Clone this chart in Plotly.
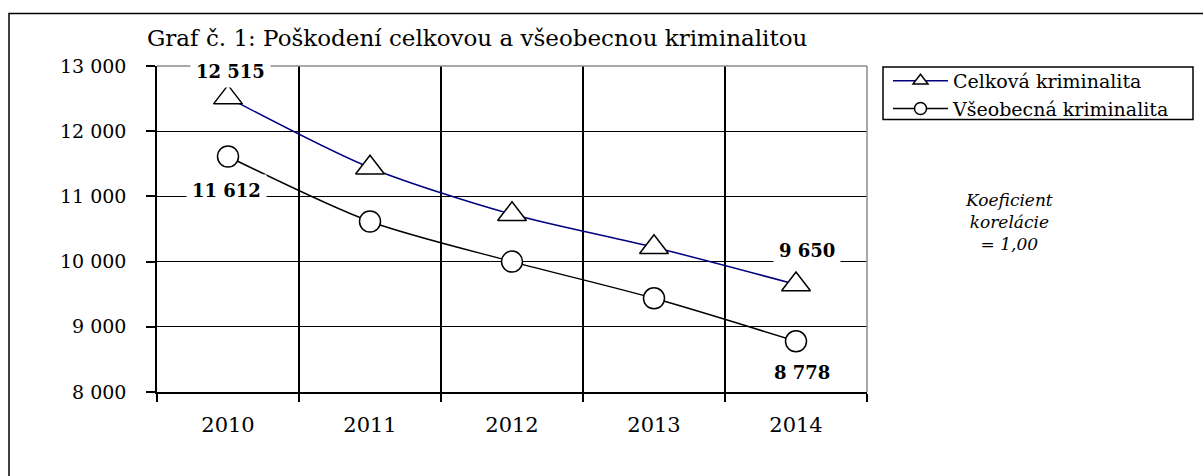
import plotly.graph_objects as go

# ---- data ----
years = ["2010", "2011", "2012", "2013", "2014"]
celkova = [12515, 11440, 10725, 10220, 9650]
vseobecna = [11612, 10615, 10000, 9437, 8778]
ytick_vals = [8000, 9000, 10000, 11000, 12000, 13000]
ytick_text = ["8 000", "9 000", "10 000", "11 000", "12 000", "13 000"]
series_names = ["Celková kriminalita", "Všeobecná kriminalita"]
title_text = "Graf č. 1: Poškodení celkovou a všeobecnou kriminalitou"
note_text = "Koeficient<br>korelácie<br>= 1,00"

# ---- layout geometry (pixels) ----
W, H = 1203, 476
L, R, T, B = 157, 867, 66, 392
PW, PH = R - L, B - T

def px(xp):
    return (xp - L) / PW

def py(yp):
    return (B - yp) / PH

FONT = "DejaVu Serif"
NAVY = "#000080"

fig = go.Figure()

fig.add_trace(go.Scatter(
    x=years, y=celkova, mode="lines+markers", showlegend=False,
    line=dict(color=NAVY, width=1.5, shape="spline", smoothing=0.8),
    marker=dict(symbol="triangle-up", size=25, color="white",
                line=dict(color="black", width=1.5)),
))
fig.add_trace(go.Scatter(
    x=years, y=vseobecna, mode="lines+markers", showlegend=False,
    line=dict(color="black", width=1.5, shape="spline", smoothing=0.8),
    marker=dict(symbol="circle", size=21, color="white",
                line=dict(color="black", width=1.5)),
))

# legend-only entries with smaller symbols
fig.add_trace(go.Scatter(
    x=[None], y=[None], mode="lines+markers", name=series_names[0],
    line=dict(color=NAVY, width=1.5),
    marker=dict(symbol="triangle-up", size=13, color="white",
                line=dict(color="black", width=1.5)),
))
fig.add_trace(go.Scatter(
    x=[None], y=[None], mode="lines+markers", name=series_names[1],
    line=dict(color="black", width=1.5),
    marker=dict(symbol="circle", size=12, color="white",
                line=dict(color="black", width=1.5)),
))

# data labels (white boxes cover gridlines)
lab_font = dict(family=FONT, size=18, color="black", weight="bold")
labels = [
    (0, celkova[0], 2, 26),
    (0, vseobecna[0], -2, -34),
    (4, celkova[4], 11, 34),
    (4, vseobecna[4], 6, -31),
]
for xi, yv, xs, ys in labels:
    fig.add_annotation(
        x=xi, y=yv, xref="x", yref="y", text=f"{yv:,}".replace(",", " "),
        showarrow=False, xshift=xs, yshift=ys, font=lab_font,
        bgcolor="white", borderpad=5,
    )

# correlation note
fig.add_annotation(
    x=px(1009), y=py(222), xref="paper", yref="paper", text=note_text,
    showarrow=False, xanchor="center", yanchor="middle", align="center",
    font=dict(family=FONT, size=17, color="black", style="italic"),
)

# plot border (gray top & right)
fig.add_shape(type="line", xref="paper", yref="paper", x0=0, x1=1, y0=1, y1=1,
              line=dict(color="#8c8c8c", width=1.5), layer="above")
fig.add_shape(type="line", xref="paper", yref="paper", x0=1, x1=1, y0=0, y1=1,
              line=dict(color="#8c8c8c", width=1.5), layer="above")

# legend frame
fig.add_shape(type="rect", xref="paper", yref="paper",
              x0=px(883), x1=px(1193), y0=py(119.5), y1=py(67),
              line=dict(color="black", width=1.5), layer="above")

# outer chart frame
fig.add_shape(type="rect", xref="paper", yref="paper",
              x0=px(9), x1=px(1210), y0=py(490), y1=py(13.5),
              line=dict(color="black", width=1.5), layer="below")

fig.update_layout(
    width=W, height=H,
    margin=dict(l=L, r=W - R, t=T, b=H - B),
    paper_bgcolor="white", plot_bgcolor="white",
    font=dict(family=FONT, color="black"),
    title=dict(text=title_text, x=147 / W, xanchor="left", xref="container",
               y=1 - 38 / H, yanchor="middle", yref="container",
               font=dict(family=FONT, size=23, color="black")),
    legend=dict(x=px(888), y=py(62), xanchor="left", yanchor="top",
                borderwidth=0, bgcolor="rgba(0,0,0,0)",
                font=dict(family=FONT, size=19, color="black"),
                itemwidth=55),
    xaxis=dict(type="category", range=[-0.5, 4.5], showline=True,
               linecolor="black", linewidth=1.5, ticks="outside",
               tickson="boundaries", ticklen=8, tickcolor="black", tickwidth=1.5,
               showgrid=True, gridcolor="black", gridwidth=1.5,
               tickfont=dict(family=FONT, size=21, color="black"),
               ticklabelstandoff=13, zeroline=False, fixedrange=True),
    yaxis=dict(range=[8000, 13000], tickvals=ytick_vals, ticktext=ytick_text,
               showline=True, linecolor="black", linewidth=1.5,
               ticks="outside", ticklen=9, tickcolor="black", tickwidth=1.5,
               showgrid=True, gridcolor="black", gridwidth=1,
               tickfont=dict(family=FONT, size=19, color="black"),
               ticklabelstandoff=16, zeroline=False, fixedrange=True),
)

fig.write_html(
    "out.html",
    config={"displayModeBar": False},
    post_script="document.body.style.margin='0px';document.body.style.overflow='hidden';",
)
